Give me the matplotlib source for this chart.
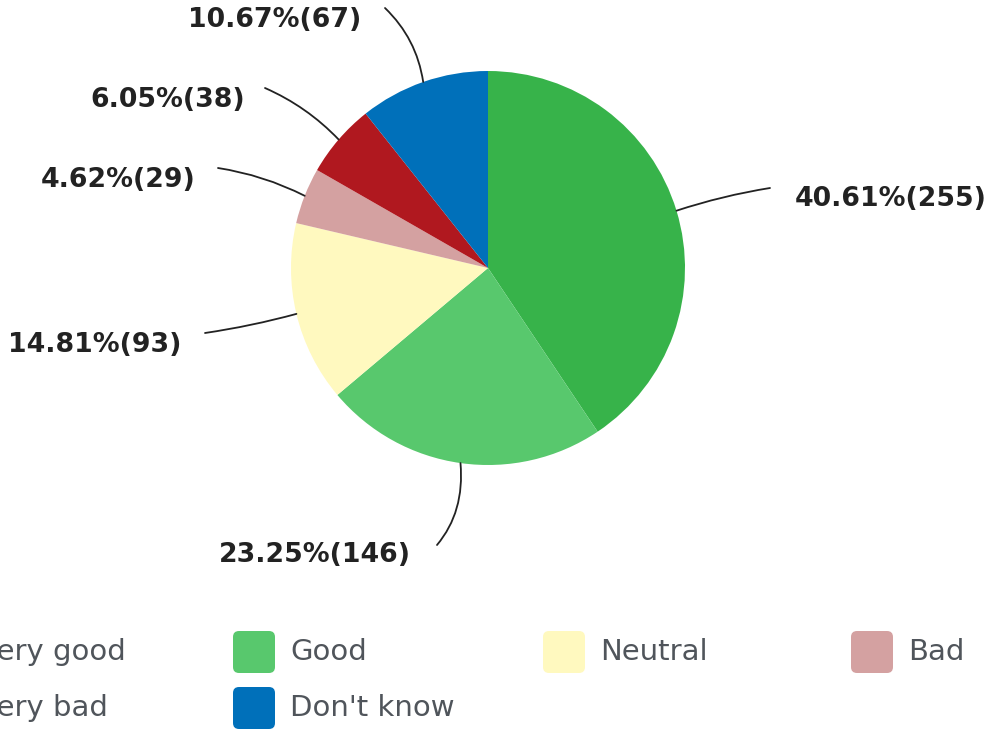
import matplotlib
matplotlib.use('Agg')
import matplotlib.pyplot as plt
import numpy as np
from matplotlib.patches import FancyBboxPatch

# data
labels = ['Very good', 'Good', 'Neutral', 'Bad', 'Very bad', "Don't know"]
percents = [40.61, 23.25, 14.81, 4.62, 6.05, 10.67]
counts = [255, 146, 93, 29, 38, 67]
colors = ['#37B34A', '#58C86D', '#FFF9BF', '#D4A1A1', '#B0181F', '#0070BA']

W, H = 991, 730
fig = plt.figure(figsize=(W / 100, H / 100), dpi=100)
ax = fig.add_axes([0, 0, 1, 1])
ax.set_xlim(0, W)
ax.set_ylim(0, H)
ax.set_aspect('equal')
ax.axis('off')

cx, cy, r = 488, H - 268, 197
wedges, _ = ax.pie(percents, colors=colors, startangle=90, counterclock=False,
                   center=(cx, cy), radius=r, wedgeprops=dict(linewidth=0))
ax.set_xlim(0, W)
ax.set_ylim(0, H)

# label text positions (pixel coords, from top) and leader line shapes
text_pos = [(891, 199), (315, 555), (95, 345), (118, 180), (168, 100), (275, 20)]
line_end = [(770, 188), (437, 545), (205, 333), (218, 168), (265, 88), (385, 8)]
conns = ['arc3,rad=0.04', 'angle3,angleA=50,angleB=95', 'arc3,rad=0.03',
         'arc3,rad=-0.08', 'arc3,rad=-0.1', 'arc3,rad=-0.17']

for w, p, c, tp, le, cs in zip(wedges, percents, counts, text_pos, line_end, conns):
    ang = np.deg2rad((w.theta1 + w.theta2) / 2)
    px = cx + r * np.cos(ang)
    py = cy + r * np.sin(ang)
    ax.text(tp[0], H - tp[1], f'{p:.2f}%({c})', ha='center', va='center',
            fontsize=19.3, fontweight='bold', color='#222222', family='DejaVu Sans')
    ax.annotate('', xy=(px, py), xytext=(le[0], H - le[1]),
                arrowprops=dict(arrowstyle='-', color='#222222', lw=1.3,
                                shrinkA=0, shrinkB=0, connectionstyle=cs))

# legend (first column is cut off by the left edge, as in the source)
col_x = [-78, 233, 543, 851]
row_y = [652, 708]
for i, (lab, col) in enumerate(zip(labels, colors)):
    bx = col_x[i % 4]
    by = row_y[i // 4]
    ax.add_patch(FancyBboxPatch((bx, H - by - 21), 42, 42,
                                boxstyle='round,pad=0,rounding_size=6',
                                facecolor=col, edgecolor='none', clip_on=False))
    ax.text(bx + 57, H - by, lab, ha='left', va='center', fontsize=21,
            color='#50555b', family='DejaVu Sans')

fig.savefig('out.png', dpi=100)
